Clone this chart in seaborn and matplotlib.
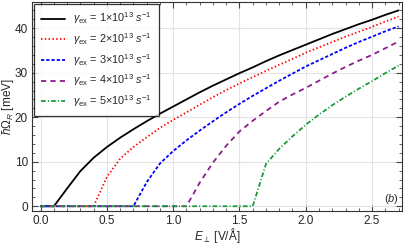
import numpy as np
import pandas as pd
import seaborn as sns
import matplotlib.pyplot as plt
from matplotlib.ticker import MultipleLocator

# Electric field grid (V/A)
E_field = [round(0.1 * i, 1) for i in range(28)]

# Rabi-like gap (meV), one list per gamma_ex
omega_g1 = [0, 0, 4.0, 7.9, 10.9, 13.3, 15.4, 17.3, 19.1, 20.8, 22.4, 24.0, 25.6, 27.1,
            28.5, 29.9, 31.2, 32.6, 33.9, 35.1, 36.3, 37.5, 38.7, 39.8, 40.9, 41.9, 43.0, 44.0]
omega_g2 = [0, 0, 0, 0, 0, 6.6, 10.7, 13.3, 15.5, 17.6, 19.4, 21.1, 22.8, 24.5,
            26.1, 27.6, 29.0, 30.4, 31.8, 33.1, 34.5, 35.7, 36.9, 38.1, 39.2, 40.3, 41.5, 42.6]
omega_g3 = [0, 0, 0, 0, 0, 0, 0, 0, 5.4, 9.6, 12.4, 14.8, 17.0, 19.1,
            21.1, 23.0, 24.8, 26.5, 28.2, 29.8, 31.4, 32.8, 34.2, 35.6, 36.9, 38.1, 39.3, 40.4]
omega_g4 = [0, 0, 0, 0, 0, 0, 0, 0, 0, 0, 0, 0, 5.3, 9.8,
            13.6, 16.8, 19.2, 21.4, 23.5, 25.1, 26.6, 28.2, 29.8, 31.3, 32.7, 34.0, 35.5, 37.0]
omega_g5 = [0, 0, 0, 0, 0, 0, 0, 0, 0, 0, 0, 0, 0, 0,
            0, 0, 0, 9.5, 12.9, 15.7, 18.3, 20.6, 22.7, 24.6, 26.4, 28.1, 29.9, 31.6]

labels = [r"$\gamma_{\rm ex}$ = 1$\times$10$^{13}$ $s^{-1}$",
          r"$\gamma_{\rm ex}$ = 2$\times$10$^{13}$ $s^{-1}$",
          r"$\gamma_{\rm ex}$ = 3$\times$10$^{13}$ $s^{-1}$",
          r"$\gamma_{\rm ex}$ = 4$\times$10$^{13}$ $s^{-1}$",
          r"$\gamma_{\rm ex}$ = 5$\times$10$^{13}$ $s^{-1}$"]
series = [omega_g1, omega_g2, omega_g3, omega_g4, omega_g5]
colors = ["black", "#ff0000", "#0000ff", "#8b1f8b", "#1a9a3a"]
styles = ["-", (0, (0.8, 1.3)), (0, (1.8, 1.1)), (0, (2.9, 2.3)), (0, (2.6, 1.2, 0.6, 1.2))]

sns.set_style("ticks")
plt.rcParams["font.family"] = ["Liberation Sans", "DejaVu Sans"]
plt.rcParams["mathtext.fontset"] = "custom"
plt.rcParams["mathtext.rm"] = "Liberation Sans"
plt.rcParams["mathtext.it"] = "Liberation Sans:italic"

fig = plt.figure(figsize=(4.07, 2.45), dpi=100)
ax = fig.add_axes([0.079, 0.139, 0.909, 0.853])

for lab, ys, c, ls in zip(labels, series, colors, styles):
    df = pd.DataFrame({"E": E_field, "W": ys})
    sns.lineplot(data=df, x="E", y="W", color=c, linestyle=ls, lw=1.3,
                 label=lab, ax=ax)

ax.set_xlim(-0.064, 2.727)
ax.set_ylim(-1.06, 45.9)
ax.xaxis.set_major_locator(MultipleLocator(0.5))
ax.xaxis.set_minor_locator(MultipleLocator(0.1))
ax.yaxis.set_major_locator(MultipleLocator(10))
ax.yaxis.set_minor_locator(MultipleLocator(2))
ax.tick_params(which="both", direction="in", top=True, right=True,
               labelsize=8.5, color="#444444", pad=3)
ax.tick_params(which="major", length=4)
ax.tick_params(which="minor", length=2)
ax.grid(True, which="major", color="#e3e3e3", lw=0.8)
for sp in ax.spines.values():
    sp.set_color("#333333")
    sp.set_linewidth(0.8)

ax.set_xlabel(r"$E_{\perp}$ [V/Å]", fontsize=8.5)
ax.set_ylabel(r"$\hbar\Omega_R$ [meV]", fontsize=8.5)
ax.xaxis.set_label_coords(0.5, -0.07)
ax.yaxis.set_label_coords(-0.045, 0.5)
ax.text(0.992, 0.057, r"($b$)", transform=ax.transAxes, ha="right",
        va="center", fontsize=8)

leg = ax.legend(loc="upper left", fontsize=7.8, frameon=True, fancybox=False,
                edgecolor="black", handlelength=2.2, borderpad=0.6,
                labelspacing=0.45, handletextpad=0.8, borderaxespad=0.2)
leg.get_frame().set_linewidth(0.9)

fig.savefig("out.png", dpi=100)
